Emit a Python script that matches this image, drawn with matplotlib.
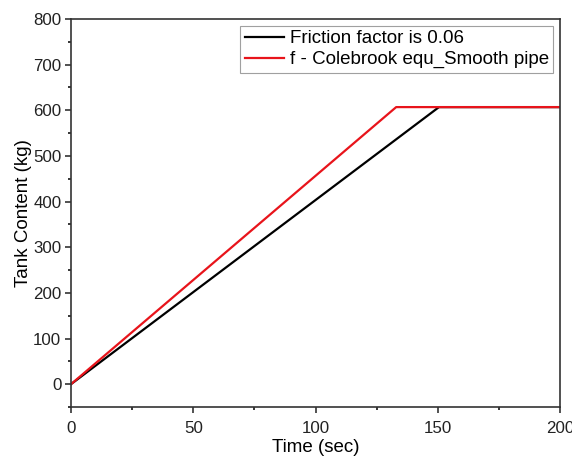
import matplotlib.pyplot as plt
from matplotlib.ticker import MultipleLocator

plt.rcParams['font.family'] = ['Liberation Sans', 'DejaVu Sans']

# values
time_black = [0, 150.5, 200]
mass_black = [0, 607, 607]
time_red = [0, 133, 200]
mass_red = [0, 607, 607]

fig = plt.figure(figsize=(5.72, 4.58), dpi=100)
ax = fig.add_axes([71 / 572, 1 - 407 / 458, 489 / 572, 388 / 458])

ax.plot(time_black, mass_black, color='black', lw=1.6, label='Friction factor is 0.06')
ax.plot(time_red, mass_red, color='#e8141b', lw=1.6, label='f - Colebrook equ_Smooth pipe')

ax.set_xlim(0, 200)
ax.set_ylim(-50, 800)
ax.xaxis.set_major_locator(MultipleLocator(50))
ax.xaxis.set_minor_locator(MultipleLocator(25))
ax.yaxis.set_major_locator(MultipleLocator(100))
ax.yaxis.set_minor_locator(MultipleLocator(50))
ax.tick_params(which='major', direction='out', length=4, width=1.1, labelsize=12.2,
               colors='#222222', pad=3)
ax.tick_params(axis='x', which='major', pad=6)
ax.tick_params(which='minor', direction='out', length=2.5, width=1.1)
for s in ax.spines.values():
    s.set_linewidth(1.2)
    s.set_color('#333333')

ax.set_xlabel('Time (sec)', fontsize=13.5, labelpad=2)
ax.set_ylabel('Tank Content (kg)', fontsize=13.5, labelpad=1)

leg = ax.legend(loc='upper right', fontsize=13.5, frameon=True, fancybox=False,
                edgecolor='#888888', handlelength=2.1, borderpad=0.25,
                labelspacing=0.2, handletextpad=0.3, borderaxespad=0.35)
leg.get_frame().set_linewidth(0.8)

fig.savefig('out.png', dpi=100)
